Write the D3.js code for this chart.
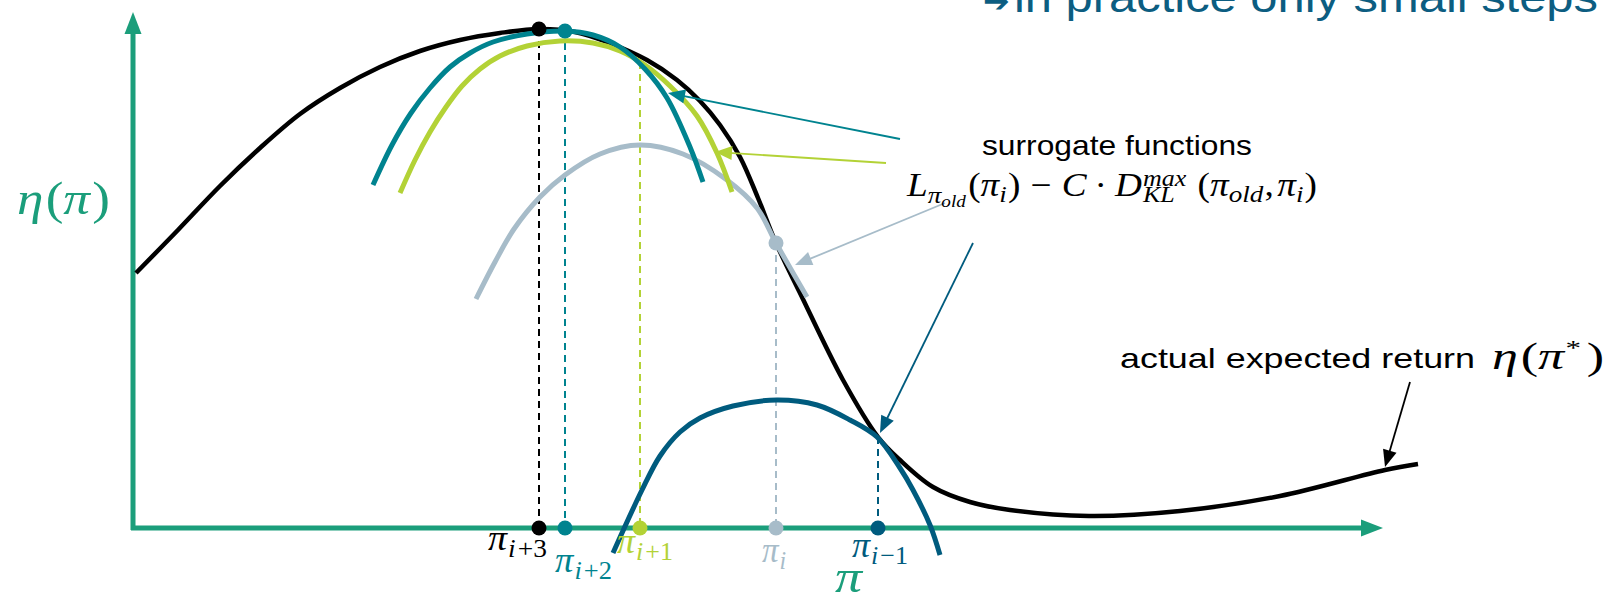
<!DOCTYPE html>
<html>
<head>
<meta charset="utf-8">
<script src="https://cdn.jsdelivr.net/npm/d3@7"></script>
<style>
  html, body { margin: 0; padding: 0; background: #fff; }
  svg { display: block; }
</style>
</head>
<body>
<svg id="chart" width="1611" height="594"></svg>
<script>
// ---- data (policy space on x, expected return on y) ----
const trueReturn = [
  [0.03, 2.55], [0.45, 2.98], [0.87, 3.42], [1.27, 3.80], [1.67, 4.14], [2.07, 4.40],
  [2.47, 4.61], [2.87, 4.77], [3.27, 4.88], [3.67, 4.95], [4.06, 4.99], [4.42, 4.96],
  [4.74, 4.86], [5.14, 4.68], [5.44, 4.48], [5.67, 4.27], [5.87, 4.03], [6.07, 3.71],
  [6.25, 3.30], [6.43, 2.85], [6.67, 2.35], [7.10, 1.48], [7.45, 0.91], [7.67, 0.68],
  [8.00, 0.41], [8.37, 0.26], [8.77, 0.18], [9.56, 0.12], [10.47, 0.17], [11.47, 0.32],
  [12.52, 0.58], [12.85, 0.64]
];
// surrogate built around pi_{i-1}
const surrogatePrev = [
  [4.80, -0.25], [5.09, 0.38], [5.27, 0.72], [5.47, 0.96], [5.67, 1.10], [6.00, 1.22],
  [6.44, 1.28], [6.84, 1.23], [7.17, 1.08], [7.44, 0.91], [7.67, 0.60], [7.80, 0.38],
  [7.97, 0.03], [8.07, -0.27]
];
// surrogate built around pi_i
const surrogateI = [
  [3.43, 2.29], [3.62, 2.66], [3.81, 2.99], [4.07, 3.31], [4.32, 3.53], [4.67, 3.74],
  [5.07, 3.83], [5.50, 3.74], [5.94, 3.48], [6.24, 3.20], [6.43, 2.85], [6.74, 2.31]
];
// surrogate built around pi_{i+1}
const surrogateNext1 = [
  [2.67, 3.35], [2.82, 3.68], [2.97, 3.96], [3.13, 4.21], [3.29, 4.42], [3.47, 4.59],
  [3.67, 4.72], [3.94, 4.82], [4.27, 4.87], [4.60, 4.85], [4.87, 4.77], [5.12, 4.63],
  [5.37, 4.42], [5.64, 4.12], [5.84, 3.75], [5.99, 3.36]
];
// surrogate built around pi_{i+2}
const surrogateNext2 = [
  [2.40, 3.43], [2.59, 3.83], [2.78, 4.15], [2.97, 4.40], [3.17, 4.61], [3.37, 4.75],
  [3.60, 4.86], [3.94, 4.94], [4.32, 4.97], [4.60, 4.93], [4.87, 4.81], [5.12, 4.59],
  [5.34, 4.30], [5.57, 3.81], [5.70, 3.46]
];

// policy iterates: position, value where the dashed guide starts, marker on curve
const policySubs   = ["i+3", "i+2", "i+1", "i", "i−1"];
const policyX      = [4.06, 4.32, 5.07, 6.43, 7.45];
const policyY      = [4.99, 4.97, 4.66, 2.85, 0.91];
const policyMarked = [true, true, false, true, false];

// annotation pointers: [from, to]
const pointerTeal  = [[7.67, 3.89], [5.35, 4.35]];
const pointerLime  = [[7.53, 3.65], [5.82, 3.76]];
const pointerGrey  = [[8.12, 3.25], [6.62, 2.63]];
const pointerDark  = [[8.40, 2.85], [7.47, 0.95]];
const pointerTrue  = [[12.77, 1.46], [12.52, 0.61]];

const xExtent = [-0.02, 12.5];
const yExtent = [-0.02, 5.16];

// ---- styling ----
const C = {
  axis: "#1b9e7b",
  black: "#000000",
  teal: "#00838f",
  lime: "#b3d236",
  grey: "#a7bcc9",
  dark: "#005b7e",
  title: "#0c5d81"
};
const policyColors = [C.black, C.teal, C.lime, C.grey, C.dark];
const SERIF = "'Liberation Serif', 'DejaVu Serif', serif";
const SANS = "'Liberation Sans', Arial, sans-serif";

const svg = d3.select("#chart");
svg.append("rect").attr("width", 1611).attr("height", 594).attr("fill", "#fff");

const x = d3.scaleLinear().domain([0, 12.5]).range([133, 1383]);
const y = d3.scaleLinear().domain([0, 5]).range([528, 28]);

const line = d3.line()
  .x(d => x(d[0])).y(d => y(d[1]))
  .curve(d3.curveCatmullRom.alpha(0.5));

// arrowhead helper: filled triangle at the end of a segment
function arrowhead(g, p0, p1, color, len, half) {
  const x0 = x(p0[0]), y0 = y(p0[1]), x1 = x(p1[0]), y1 = y(p1[1]);
  const a = Math.atan2(y1 - y0, x1 - x0);
  const bx = x1 - len * Math.cos(a), by = y1 - len * Math.sin(a);
  const nx = -Math.sin(a) * half, ny = Math.cos(a) * half;
  g.append("path")
    .attr("d", `M${x1},${y1}L${bx + nx},${by + ny}L${bx - nx},${by - ny}Z`)
    .attr("fill", color);
}

// ---- axes ----
const axes = svg.append("g");
axes.append("line")
  .attr("x1", x(0)).attr("y1", y(yExtent[0]))
  .attr("x2", x(0)).attr("y2", y(yExtent[1]) + 18)
  .attr("stroke", C.axis).attr("stroke-width", 5);
arrowhead(axes, [0, 0], [0, yExtent[1]], C.axis, 22, 8.5);
axes.append("line")
  .attr("x1", x(xExtent[0])).attr("y1", y(0))
  .attr("x2", x(xExtent[1]) - 18).attr("y2", y(0))
  .attr("stroke", C.axis).attr("stroke-width", 5);
arrowhead(axes, [0, 0], [xExtent[1], 0], C.axis, 22, 8.5);

// ---- dashed guides from each iterate down to the axis ----
const guides = svg.append("g");
policyX.forEach((px, i) => {
  guides.append("line")
    .attr("x1", x(px)).attr("x2", x(px))
    .attr("y1", y(policyY[i])).attr("y2", y(0))
    .attr("stroke", policyColors[i]).attr("stroke-width", 2)
    .attr("stroke-dasharray", "7,5");
});

// ---- curves ----
const curves = svg.append("g").attr("fill", "none").attr("stroke-linecap", "butt");
curves.append("path").datum(trueReturn).attr("d", line)
  .attr("stroke", C.black).attr("stroke-width", 4.5);
curves.append("path").datum(surrogateI).attr("d", line)
  .attr("stroke", C.grey).attr("stroke-width", 5);
curves.append("path").datum(surrogateNext1).attr("d", line)
  .attr("stroke", C.lime).attr("stroke-width", 5);
curves.append("path").datum(surrogateNext2).attr("d", line)
  .attr("stroke", C.teal).attr("stroke-width", 5);
curves.append("path").datum(surrogatePrev).attr("d", line)
  .attr("stroke", C.dark).attr("stroke-width", 5);

// ---- markers ----
const marks = svg.append("g");
policyX.forEach((px, i) => {
  marks.append("circle").attr("cx", x(px)).attr("cy", y(0)).attr("r", 7.5)
    .attr("fill", policyColors[i]);
  if (policyMarked[i]) {
    marks.append("circle").attr("cx", x(px)).attr("cy", y(policyY[i])).attr("r", 7.5)
      .attr("fill", policyColors[i]);
  }
});

// ---- pointers ----
const pointers = svg.append("g");
[[pointerTeal, C.teal], [pointerLime, C.lime], [pointerGrey, C.grey],
 [pointerDark, C.dark], [pointerTrue, C.black]].forEach(([p, col]) => {
  const [a, b] = p;
  const ang = Math.atan2(y(b[1]) - y(a[1]), x(b[0]) - x(a[0]));
  pointers.append("line")
    .attr("x1", x(a[0])).attr("y1", y(a[1]))
    .attr("x2", x(b[0]) - 10 * Math.cos(ang)).attr("y2", y(b[1]) - 10 * Math.sin(ang))
    .attr("stroke", col).attr("stroke-width", 1.8);
  arrowhead(pointers, a, b, col, 17, 7);
});

// ---- math text helper: runs of pieces laid out left to right ----
// piece: {t, s (size), it (italic), dy (baseline shift), stack (share x with previous)}
// width: optional target width, the run is stretched horizontally to it
function mathRun(parent, x0, base, pieces, color, family, width) {
  const g = parent.append("g");
  let cx = x0, prevStart = x0, prevW = 0;
  pieces.forEach(p => {
    const startX = p.stack ? prevStart : cx;
    const el = g.append("text")
      .attr("x", startX).attr("y", base + (p.dy || 0))
      .attr("font-family", p.f || family)
      .attr("font-size", p.s)
      .attr("font-style", p.it ? "italic" : "normal")
      .attr("fill", p.c || color)
      .text(p.t);
    const w = el.node().getComputedTextLength() + (p.gap || 0);
    if (p.stack) {
      cx = prevStart + Math.max(prevW, w);
    } else {
      prevStart = startX; prevW = w; cx = startX + w;
    }
  });
  if (width) {
    const k = width / (cx - x0);
    g.attr("transform", `translate(${x0},0) scale(${k},1) translate(${-x0},0)`);
    return x0 + width;
  }
  return cx;
}

// ---- policy labels under the axis ----
const labelShift = [[-51, 22], [-10, 44], [-23, 25], [-14, 34], [-26, 29]];
const labelWidth = [59, 57, 56, 26, 56];
const labels = svg.append("g");
policyX.forEach((px, i) => {
  const sub = policySubs[i];
  const pieces = [{ t: "π", s: 36, it: true, gap: 1 }];
  pieces.push({ t: sub[0], s: 26, it: true, dy: 7, gap: 2 });
  if (sub.length > 1) pieces.push({ t: sub.slice(1), s: 26, it: false, dy: 7 });
  mathRun(labels, x(px) + labelShift[i][0], y(0) + labelShift[i][1], pieces,
    policyColors[i], SERIF, labelWidth[i]);
});

// axis titles
mathRun(svg, 17, 214, [
  { t: "η", s: 46, it: true, gap: 2 }, { t: "(", s: 46 }, { t: "π", s: 46, it: true, gap: 2 },
  { t: ")", s: 46 }
], C.axis, SERIF, 93);
mathRun(svg, 835, 592, [{ t: "π", s: 46, it: true }], C.axis, SERIF, 27);

// ---- annotations ----
svg.append("text").attr("x", 982).attr("y", 155)
  .attr("font-family", SANS).attr("font-size", 28).attr("fill", "#000")
  .attr("textLength", 270).attr("lengthAdjust", "spacingAndGlyphs")
  .text("surrogate functions");

mathRun(svg, 907, 196, [
  { t: "L", s: 33, it: true },
  { t: "π", s: 24, it: true, dy: 7 },
  { t: "old", s: 17, it: true, dy: 11, gap: 2 },
  { t: "(", s: 33 },
  { t: "π", s: 33, it: true },
  { t: "i", s: 24, it: true, dy: 6, gap: 1 },
  { t: ")", s: 33, gap: 9 },
  { t: "−", s: 33, gap: 9 },
  { t: "C", s: 33, it: true, gap: 7 },
  { t: "·", s: 33, gap: 7 },
  { t: "D", s: 33, it: true, gap: 1 },
  { t: "max", s: 23, it: true, dy: -10, gap: 10 },
  { t: "KL", s: 23, it: true, dy: 6, stack: true },
  { t: "(", s: 33 },
  { t: "π", s: 33, it: true },
  { t: "old", s: 24, it: true, dy: 6, gap: 1 },
  { t: ",", s: 33, gap: 3 },
  { t: "π", s: 33, it: true },
  { t: "i", s: 24, it: true, dy: 6, gap: 1 },
  { t: ")", s: 33 }
], "#000", SERIF, 410);

// expected return label
svg.append("text").attr("x", 1120).attr("y", 368)
  .attr("font-family", SANS).attr("font-size", 28).attr("fill", "#000")
  .attr("textLength", 355).attr("lengthAdjust", "spacingAndGlyphs")
  .text("actual expected return");
mathRun(svg, 1492, 369, [
  { t: "η", s: 37, it: true, gap: 2 }, { t: "(", s: 37 }, { t: "π", s: 37, it: true, gap: 1 },
  { t: "*", s: 22, dy: -14, gap: 4 }, { t: ")", s: 37 }
], "#000", SERIF, 112);

// headline (runs off the top edge)
svg.append("text").attr("x", 983).attr("y", 12)
  .attr("font-family", "'DejaVu Sans', sans-serif").attr("font-size", 32).attr("fill", C.title)
  .text("➔");
svg.append("text").attr("x", 1014).attr("y", 12)
  .attr("font-family", SANS).attr("font-size", 42).attr("fill", C.title)
  .attr("textLength", 584).attr("lengthAdjust", "spacingAndGlyphs")
  .text("in practice only small steps");
</script>
</body>
</html>
